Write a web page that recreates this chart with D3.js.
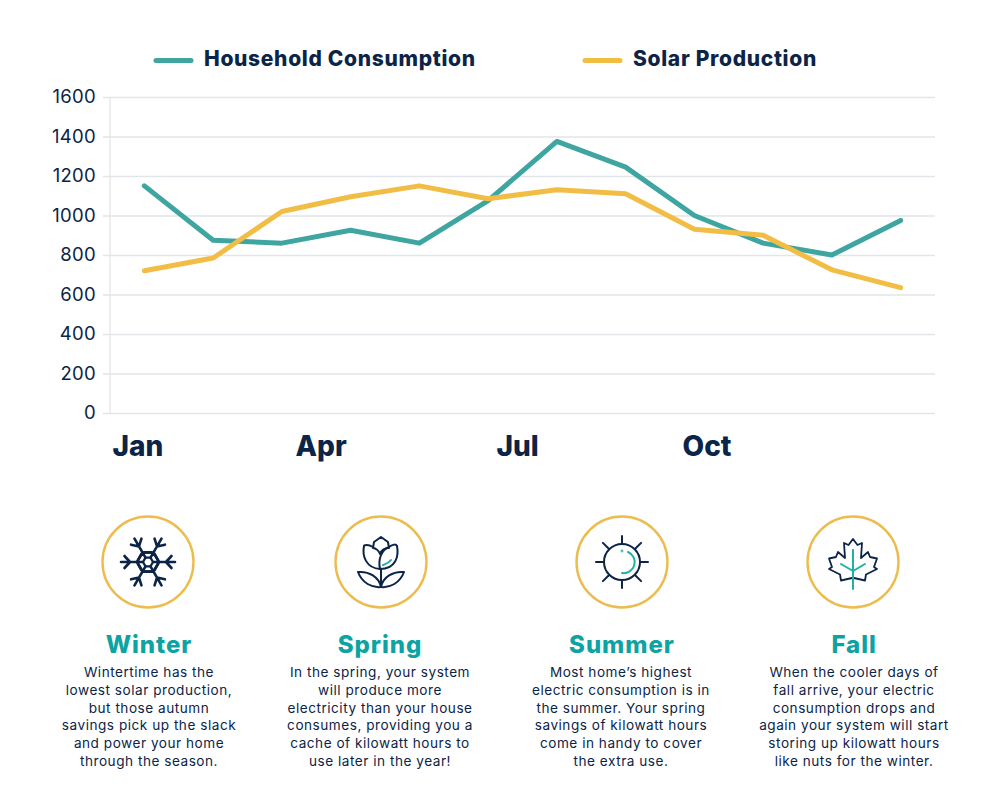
<!DOCTYPE html>
<html><head><meta charset="utf-8">
<style>html,body{margin:0;padding:0;background:#fff}svg{display:block}text{font-family:Inter,"Open Sans",sans-serif}</style>
<script src="https://cdn.jsdelivr.net/npm/d3@7"></script>
</head><body><script>
const months=["Jan","Feb","Mar","Apr","May","Jun","Jul","Aug","Sep","Oct","Nov","Dec"];
const household=[1150,875,860,925,860,1075,1375,1245,1000,860,800,975];
const solar=[720,785,1020,1095,1150,1085,1130,1110,930,900,725,635];
const yTicks=[0,200,400,600,800,1000,1200,1400,1600];
const monthTicks=["Jan","Apr","Jul","Oct"];
const seriesNames=["Household Consumption","Solar Production"];
const seasons=["Winter","Spring","Summer","Fall"];
const blurbs=[
["Wintertime has the","lowest solar production,","but those autumn","savings pick up the slack","and power your home","through the season."],
["In the spring, your system","will produce more","electricity than your house","consumes, providing you a","cache of kilowatt hours to","use later in the year!"],
["Most home’s highest","electric consumption is in","the summer. Your spring","savings of kilowatt hours","come in handy to cover","the extra use."],
["When the cooler days of","fall arrive, your electric","consumption drops and","again your system will start","storing up kilowatt hours","like nuts for the winter."]];
const NAVY="#0b2447",TEAL="#3fa5a1",GOLD="#f2bd44",RING="#ecbd4e",HEAD="#0ea3a3",GRID="#e2e5e9",ACC="#1fb0a6";

const icons=[
 g=>{ // snowflake
  d3.range(6).forEach(k=>{
   const a=g.append("g").attr("transform",`rotate(${k*60})`).attr("stroke-width",2.6);
   a.append("path").attr("d","M5,0H27M11,0L6.5,-8M11,0L6.5,8M18,0L23.5,-6M18,0L23.5,6");
  });
  const hex=d3.range(6).map(k=>[5*Math.cos(k*Math.PI/3),5*Math.sin(k*Math.PI/3)]);
  g.append("path").attr("d","M"+hex.join("L")+"Z").attr("stroke-width",2.2);
 },
 g=>{ // tulip
  g.append("path").attr("d","M0,-25L7,-20L8,-14C3,-14 0,-11 -1,-8C-2,-11 -5,-14 -8,-14L-7,-20Z");
  g.append("path").attr("d","M-8,-15C-13,-18 -17,-17 -17,-16C-19,-6 -15,6 -1,7");
  g.append("path").attr("d","M8,-15C12,-18 15,-18 16,-16C18,-6 15,7 -1,7C-3,-2 0,-12 8,-15Z");
  g.append("path").attr("d","M0,7V25");
  g.append("path").attr("d","M0,25C-2,15 -12,9 -23,10C-19,21 -9,26 0,25Z");
  g.append("path").attr("d","M0,25C2,15 12,9 23,10C19,21 9,26 0,25Z");
  g.append("path").attr("d","M2,3C4,2 8,1 10,-2").attr("stroke",ACC);
 },
 g=>{ // sun
  g.append("circle").attr("r",18);
  d3.range(8).forEach(k=>g.append("line").attr("transform",`rotate(${k*45})`).attr("x1",k%2?19:18).attr("x2",k%2?27:26).attr("y1",0).attr("y2",0));
  g.append("path").attr("d","M6,-10A11,11 0 0 1 0,11").attr("stroke",ACC);
  g.append("circle").attr("cx",0).attr("cy",-11).attr("r",.4).attr("stroke",ACC);
 },
 g=>{ // maple leaf
  const right=[[0,-23],[4.5,-17],[9,-19],[8,-4],[15,-10],[17,-5],[24,-3.5],[21,5],[24,7],[13,12.5],[12,18.5],[1,16]];
  const left=right.slice().reverse().map(([a,b])=>[-a,b]);
  g.append("path").attr("d","M"+right.concat(left).join("L")+"Z").attr("stroke-width",1.8);
  g.append("path").attr("d","M0,-12V27M0,9L-12,2M0,9L12,2").attr("stroke",ACC);
 }
];

const svg=d3.select("body").append("svg").attr("width",985).attr("height",812);
const x=d3.scaleBand().domain(months).range([110,935]);
const y=d3.scaleLinear().domain([0,1600]).range([413,97]);
const yAxis=d3.axisLeft(y).tickValues(yTicks).tickSize(832).tickPadding(7).tickFormat(d3.format("d"));
const gy=svg.append("g").attr("transform","translate(935,0)").call(yAxis);
gy.select(".domain").remove();
gy.selectAll("line").attr("stroke",GRID).attr("stroke-width",1.3);
gy.selectAll("text").attr("fill",NAVY).attr("font-size",18.5).attr("font-weight",400).attr("letter-spacing",.3);
svg.append("line").attr("x1",110).attr("x2",110).attr("y1",y(1600)).attr("y2",y(0)).attr("stroke",GRID).attr("stroke-width",1.3);
const xLabel=d3.scaleOrdinal().domain(monthTicks).range([112,295,496,682]);
const gx=svg.append("g").attr("transform","translate(0,413)").call(d3.axisBottom(xLabel).tickSize(0).tickPadding(0));
gx.select(".domain").remove();
gx.selectAll("text").attr("text-anchor","start").attr("dy",0).attr("y",43).attr("fill",NAVY).attr("font-size",28).attr("font-weight",800);
const line=d3.line().x((d,i)=>x(months[i])+x.bandwidth()/2).y(d=>y(d));
[[household,TEAL],[solar,GOLD]].forEach(([s,c])=>svg.append("path").datum(s).attr("d",line).attr("fill","none").attr("stroke",c).attr("stroke-width",5).attr("stroke-linejoin","round").attr("stroke-linecap","round"));
const legend=[{x:156,c:TEAL,t:204},{x:585,c:GOLD,t:633}];
legend.forEach((l,i)=>{
 svg.append("line").attr("x1",l.x).attr("x2",l.x+35).attr("y1",60.5).attr("y2",60.5).attr("stroke",l.c).attr("stroke-width",5).attr("stroke-linecap","round");
 svg.append("text").attr("x",l.t).attr("y",66).attr("fill",NAVY).attr("font-size",21).attr("font-weight",800).attr("letter-spacing",.68).text(seriesNames[i]);
});
const iconX=[148,381,622,853],headX=[149,380,622,854],textX=[149,380,621,854];
seasons.forEach((s,i)=>{
 svg.append("circle").attr("cx",iconX[i]).attr("cy",562).attr("r",45.5).attr("fill","none").attr("stroke",RING).attr("stroke-width",2.4);
 const g=svg.append("g").attr("transform",`translate(${iconX[i]},562)`).attr("fill","none").attr("stroke",NAVY).attr("stroke-width",2).attr("stroke-linecap","round").attr("stroke-linejoin","round");
 icons[i](g);
 svg.append("text").attr("x",headX[i]).attr("y",653).attr("text-anchor","middle").attr("fill",HEAD).attr("font-size",24).attr("font-weight",800).attr("letter-spacing",.95).text(s);
 const t=svg.append("text").attr("text-anchor","middle").attr("fill",NAVY).attr("font-size",13.6).attr("letter-spacing",.52);
 blurbs[i].forEach((b,j)=>t.append("tspan").attr("x",textX[i]).attr("y",677+j*17.8).text(b));
});
</script></body></html>
